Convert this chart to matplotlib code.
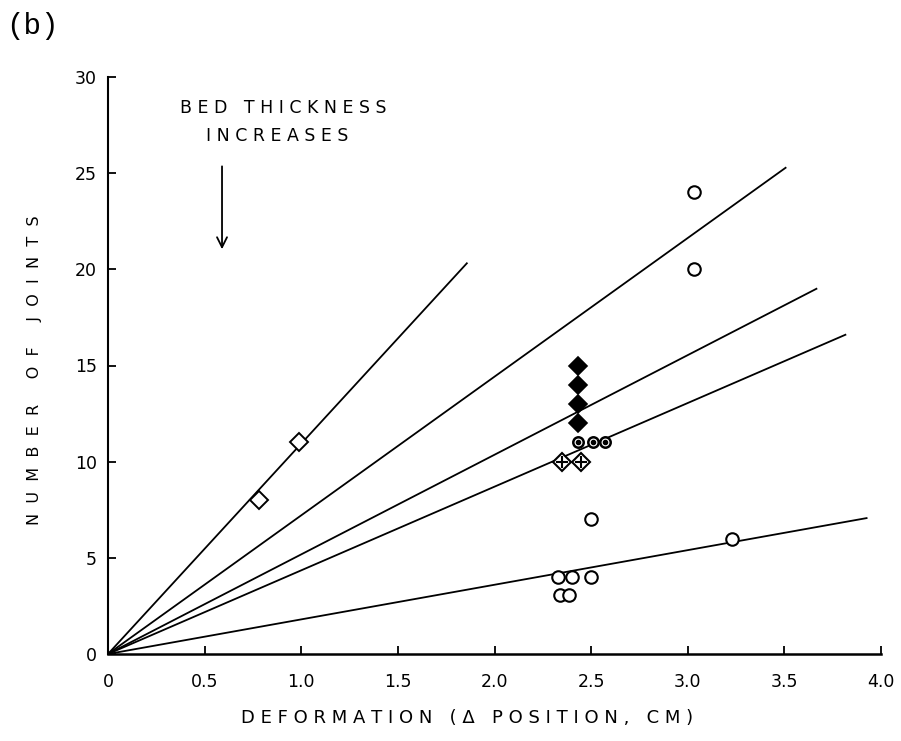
import matplotlib
matplotlib.use("Agg")
import matplotlib.pyplot as plt
import numpy as np

# ---- data ----
fit_slopes = [10.94, 7.21, 5.18, 4.35, 1.80]
fit_x_end = [1.86, 3.51, 3.67, 3.82, 3.93]

open_diamond_x = [0.78, 0.99]
open_diamond_y = [8, 11]

filled_diamond_x = [2.43, 2.43, 2.43, 2.43]
filled_diamond_y = [15, 14, 13, 12]

dotted_circle_x = [2.43, 2.51, 2.57]
dotted_circle_y = [11, 11, 11]

cross_diamond_x = [2.35, 2.45]
cross_diamond_y = [10, 10]

open_circle_x = [3.03, 3.03, 2.50, 3.23, 2.50, 2.33, 2.40, 2.34, 2.385]
open_circle_y = [24, 20, 7, 6, 4, 4, 4, 3.05, 3.05]

x_ticks = [0, 0.5, 1.0, 1.5, 2.0, 2.5, 3.0, 3.5, 4.0]
x_tick_labels = ["0", "0.5", "1.0", "1.5", "2.0", "2.5", "3.0", "3.5", "4.0"]
y_ticks = [0, 5, 10, 15, 20, 25, 30]
y_tick_labels = ["0", "5", "10", "15", "20", "25", "30"]

fig = plt.figure(figsize=(9.01, 7.41), dpi=100)
ax = fig.add_axes([108/901, 1-654/741, (881-108)/901, (654-77)/741])

for s, xe in zip(fit_slopes, fit_x_end):
    xs = np.array([0, xe])
    ax.plot(xs, s*xs, color="black", lw=1.3, solid_capstyle="butt")

ax.plot(open_diamond_x, open_diamond_y, ls="none", marker="D", ms=9,
        mfc="white", mec="black", mew=1.4)
ax.plot(filled_diamond_x, filled_diamond_y, ls="none", marker="D", ms=9,
        mfc="black", mec="black", mew=1.2)
ax.plot(dotted_circle_x, dotted_circle_y, ls="none", marker="o", ms=7.5,
        mfc="white", mec="black", mew=1.8)
ax.plot(dotted_circle_x, dotted_circle_y, ls="none", marker="o", ms=3,
        mfc="black", mec="black")
ax.plot(cross_diamond_x, cross_diamond_y, ls="none", marker="D", ms=9,
        mfc="white", mec="black", mew=1.5)
ax.plot(cross_diamond_x, cross_diamond_y, ls="none", marker="+", ms=9,
        mec="black", mew=1.5)
ax.plot(open_circle_x, open_circle_y, ls="none", marker="o", ms=9,
        mfc="white", mec="black", mew=1.5)

ax.set_xlim(0, 4.0)
ax.set_ylim(0, 30)
for sp in ["top", "right"]:
    ax.spines[sp].set_visible(False)
ax.spines["left"].set_linewidth(1.5)
ax.spines["bottom"].set_linewidth(1.8)
ax.set_xticks(x_ticks)
ax.set_xticklabels(x_tick_labels)
ax.set_yticks(y_ticks)
ax.set_yticklabels(y_tick_labels)
ax.tick_params(direction="in", length=6, width=1.3, labelsize=12.5)
ax.tick_params(axis="x", pad=14)
ax.tick_params(axis="y", pad=8)

ax.annotate("", xy=(0.59, 20.9), xytext=(0.59, 25.5),
            arrowprops=dict(arrowstyle="->", color="black", lw=1.3,
                            mutation_scale=18))
ax.text(0.905, 28.4, "B E D   T H I C K N E S S", ha="center", va="center", fontsize=12.5)
ax.text(0.875, 26.95, "I N C R E A S E S", ha="center", va="center", fontsize=12.5)

fig.text(35/901, 1-370/741, "N  U  M  B  E  R     O  F     J  O  I  N  T  S", rotation=90,
         ha="center", va="center", fontsize=11.5)
fig.text(467/901, 1-718/741, "D E F O R M A T I O N   ( Δ   P O S I T I O N ,   C M )",
         ha="center", va="center", fontsize=13)
fig.text(6/901, 1-26/741, "(b)", ha="left", va="center", fontsize=21,
         family="Liberation Mono")

fig.savefig("out.png", dpi=100)
